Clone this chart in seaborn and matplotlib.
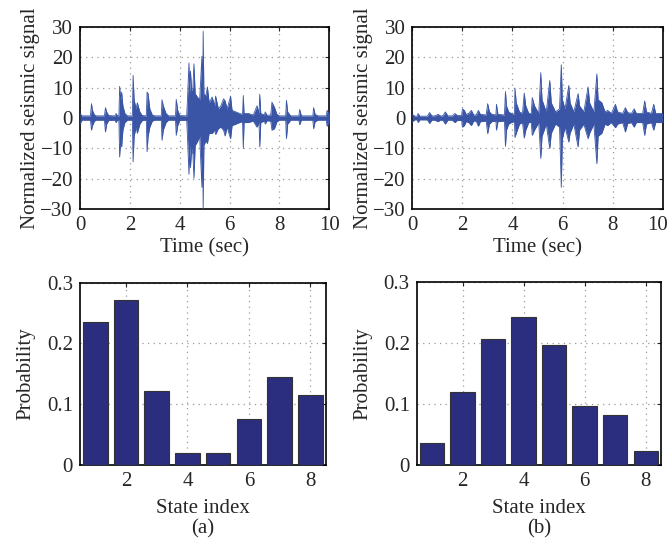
import matplotlib
matplotlib.use("Agg")
import matplotlib.pyplot as plt
import matplotlib.transforms as mtransforms
import seaborn as sns
import pandas as pd
import numpy as np

# ---------------- data ----------------
# Signal (a): envelope readings (time [s], upper, lower)
sig_a_t = [0.00, 0.08, 0.42, 0.46, 0.50, 0.58, 0.65, 0.98, 1.02, 1.07, 1.15, 1.40, 1.45, 1.50,
           1.56, 1.59, 1.63, 1.67, 1.72, 1.80, 1.90, 2.10, 2.13, 2.17, 2.25, 2.30, 2.40, 2.50,
           2.66, 2.69, 2.73, 2.80, 2.90, 3.00, 3.26, 3.29, 3.34, 3.45, 3.55, 3.83, 3.86, 3.92,
           4.00, 4.28, 4.31, 4.37, 4.40, 4.43, 4.48, 4.53, 4.57, 4.62, 4.70, 4.80, 4.89, 4.92,
           4.94, 4.97, 5.05, 5.11, 5.18, 5.30, 5.40, 5.44, 5.55, 5.65, 5.76, 5.82, 5.90, 6.04,
           6.10, 6.25, 6.40, 6.52, 6.55, 6.58, 6.75, 6.95, 7.10, 7.18, 7.21, 7.25, 7.40, 7.43,
           7.50, 7.65, 7.70, 7.80, 7.90, 8.00, 8.25, 8.28, 8.33, 8.45, 8.78, 8.81, 8.88, 9.34,
           9.37, 9.43, 9.55, 9.88, 9.91, 10.0]
sig_a_hi = [1.5, 0.7, 0.7, 4.7, 2.5, 1.0, 0.7, 0.7, 3.4, 2.0, 0.8, 0.7, 1.5, 0.7,
            0.7, 10.4, 6.0, 8.5, 4.0, 1.5, 0.7, 0.7, 14.0, 6.0, 3.0, 5.0, 2.0, 0.8,
            0.7, 8.5, 8.0, 3.0, 1.0, 0.7, 0.7, 6.0, 4.0, 1.5, 0.7, 0.7, 6.1, 2.5,
            0.8, 0.7, 6.0, 18.1, 8.0, 15.4, 9.0, 10.0, 17.8, 8.0, 7.0, 6.0, 20.3, 6.0,
            28.5, 8.0, 7.2, 10.2, 5.0, 6.9, 4.0, 7.2, 3.0, 4.0, 6.3, 5.6, 3.0, 7.1,
            2.5, 2.0, 1.5, 1.2, 7.4, 1.5, 1.5, 1.0, 4.0, 1.5, 7.8, 1.5, 1.0, 2.0,
            0.9, 1.0, 5.2, 3.5, 1.2, 0.7, 0.7, 5.8, 2.0, 0.7, 0.7, 2.8, 0.7, 0.7,
            3.4, 1.2, 0.7, 0.7, 2.5, 1.5]
sig_a_lo = [-2.0, -0.7, -0.7, -4.0, -2.5, -1.0, -0.7, -0.7, -4.6, -2.0, -0.8, -0.7, -1.5, -0.7,
            -0.7, -12.8, -7.0, -9.5, -4.0, -1.5, -0.7, -0.7, -14.4, -6.0, -3.0, -5.0, -2.0, -0.8,
            -0.7, -11.1, -6.0, -3.0, -1.0, -0.7, -0.7, -7.3, -4.0, -1.5, -0.7, -0.7, -5.7, -2.5,
            -0.8, -0.7, -6.0, -18.5, -9.0, -16.3, -10.0, -12.0, -19.8, -9.0, -8.0, -6.0, -22.8, -7.0,
            -30.0, -9.0, -7.5, -8.4, -5.0, -5.1, -4.0, -5.4, -3.5, -3.0, -4.0, -5.9, -3.0, -6.8,
            -2.5, -2.0, -1.5, -1.2, -10.0, -1.5, -1.5, -1.0, -3.0, -1.5, -9.5, -1.5, -1.0, -2.0,
            -0.9, -1.0, -4.0, -3.5, -1.2, -0.7, -0.7, -6.8, -2.0, -0.7, -0.7, -2.2, -0.7, -0.7,
            -3.5, -1.2, -0.7, -0.7, -2.7, -1.5]

# Signal (b): envelope readings (time [s], upper, lower)
sig_b_t = [0.00, 0.10, 0.20, 0.23, 0.30, 0.60, 0.69, 0.78, 0.90, 1.03, 1.12, 1.22, 1.32, 1.42,
           1.60, 1.70, 1.80, 1.97, 2.00, 2.08, 2.15, 2.25, 2.36, 2.45, 2.55, 2.64, 2.72, 2.95,
           3.01, 3.08, 3.18, 3.34, 3.36, 3.42, 3.68, 3.72, 3.76, 3.85, 3.95, 4.08, 4.10, 4.15,
           4.28, 4.40, 4.47, 4.53, 4.65, 4.75, 4.79, 4.88, 5.05, 5.13, 5.18, 5.35, 5.49, 5.55,
           5.72, 5.88, 5.95, 5.99, 6.10, 6.25, 6.30, 6.45, 6.62, 6.68, 6.85, 7.02, 7.08, 7.25,
           7.37, 7.42, 7.57, 7.70, 7.80, 7.95, 8.11, 8.20, 8.40, 8.51, 8.60, 8.75, 8.86, 8.95,
           9.20, 9.28, 9.35, 9.55, 9.64, 9.72, 10.0]
sig_b_hi = [1.2, 0.6, 0.6, 1.5, 0.6, 0.6, 1.8, 0.7, 0.7, 1.2, 0.7, 0.7, 2.0, 0.7,
            0.7, 1.5, 0.8, 0.8, 3.0, 2.5, 1.2, 1.5, 2.5, 1.0, 1.0, 2.5, 1.2, 1.0,
            4.7, 2.0, 1.2, 1.0, 4.5, 1.2, 1.0, 8.7, 4.0, 2.0, 1.5, 1.2, 9.8, 5.0,
            2.0, 1.5, 8.2, 4.0, 1.5, 1.5, 6.7, 4.0, 1.5, 14.9, 6.0, 2.0, 12.3, 5.0,
            2.0, 3.0, 17.5, 6.0, 3.0, 10.7, 5.0, 2.0, 8.0, 4.0, 2.0, 10.2, 5.0, 2.0,
            14.5, 6.0, 5.0, 2.0, 2.5, 1.5, 4.5, 2.0, 1.5, 3.4, 1.8, 1.5, 3.0, 1.5,
            1.5, 5.6, 2.0, 1.5, 4.5, 1.5, 1.5]
sig_b_lo = [-1.2, -0.6, -0.6, -1.5, -0.6, -0.6, -1.8, -0.7, -0.7, -1.2, -0.7, -0.7, -2.0, -0.7,
            -0.7, -1.5, -0.8, -0.8, -3.0, -2.5, -1.2, -1.5, -2.5, -1.0, -1.0, -2.7, -1.2, -1.0,
            -5.1, -2.0, -1.2, -1.0, -4.0, -1.2, -1.0, -9.3, -4.0, -2.0, -1.5, -1.2, -6.4, -5.0,
            -2.0, -1.5, -6.6, -4.0, -1.5, -1.5, -5.7, -4.0, -1.5, -13.3, -6.0, -2.0, -10.0, -5.0,
            -2.0, -3.0, -22.8, -7.0, -3.0, -7.9, -5.0, -2.0, -9.5, -4.0, -2.0, -6.8, -5.0, -2.0,
            -15.0, -6.0, -5.0, -2.0, -2.5, -1.5, -3.2, -2.0, -1.5, -4.6, -1.8, -1.5, -3.0, -1.5,
            -1.5, -5.7, -2.0, -1.5, -4.0, -1.5, -1.5]

# State-probability histograms
states = [1, 2, 3, 4, 5, 6, 7, 8]
prob_a = [0.235, 0.272, 0.122, 0.019, 0.019, 0.075, 0.144, 0.115]
prob_b = [0.035, 0.119, 0.206, 0.242, 0.197, 0.096, 0.082, 0.023]

# ---------------- styling ----------------
sns.set_style("white")
plt.rcParams['font.family'] = ['Liberation Serif', 'DejaVu Serif']
FS = 15
SIG_COLOR = "#3A55A6"
BAR_COLOR = "#2B2E7E"
GRID_KW = dict(color="#9a9a9a", linestyle=(0, (1, 3.5)), linewidth=0.9)

fig = plt.figure(figsize=(6.68, 5.42), dpi=100)
W, H = 668.0, 542.0

def add_axes(l, t, r, b):
    return fig.add_axes([l / W, 1 - b / H, (r - l) / W, (b - t) / H])

ax_tl = add_axes(80, 26.7, 329.3, 209.3)
ax_tr = add_axes(412.3, 26.7, 662.7, 209.3)
ax_bl = add_axes(80, 282.7, 325.7, 464.7)
ax_br = add_axes(416.7, 282.2, 661.0, 464.7)


def style_axes(ax):
    for s in ax.spines.values():
        s.set_visible(True)
        s.set_color("black")
        s.set_linewidth(1.2)
    ax.tick_params(direction="in", length=3, width=0.8, top=True, right=True,
                   labelsize=FS, pad=5)
    ax.grid(True, **GRID_KW)
    ax.set_axisbelow(True)


def draw_signal(ax, t, hi, lo):
    df = pd.DataFrame({"t": t, "hi": hi, "lo": lo})
    ax.fill_between(df["t"], df["lo"], df["hi"], color=SIG_COLOR, linewidth=0, zorder=3)
    sns.lineplot(data=df, x="t", y="hi", ax=ax, color=SIG_COLOR, linewidth=0.6,
                 estimator=None, sort=False, zorder=3)
    sns.lineplot(data=df, x="t", y="lo", ax=ax, color=SIG_COLOR, linewidth=0.6,
                 estimator=None, sort=False, zorder=3)
    ax.set_xlim(0, 10)
    ax.set_ylim(-30, 30)
    ax.set_xticks([0, 2, 4, 6, 8, 10])
    ax.set_yticks([-30, -20, -10, 0, 10, 20, 30])
    ax.set_xlabel("Time (sec)", fontsize=FS, labelpad=2)
    ax.set_ylabel("Normalized seismic signal", fontsize=FS, labelpad=0)
    style_axes(ax)


def draw_bars(ax, probs, tag):
    df = pd.DataFrame({"state": states, "p": probs})
    sns.barplot(data=df, x="state", y="p", ax=ax, native_scale=True, width=0.8,
                color=BAR_COLOR, saturation=1, edgecolor="#333333", linewidth=0.8,
                zorder=3)
    ax.set_xlim(0.5, 8.5)
    ax.set_ylim(0, 0.3)
    ax.set_xticks([2, 4, 6, 8])
    ax.set_xticklabels(["2", "4", "6", "8"])
    ax.set_yticks([0, 0.1, 0.2, 0.3])
    ax.set_yticklabels(["0", "0.1", "0.2", "0.3"])
    ax.set_xlabel("State index", fontsize=FS, labelpad=6)
    ax.set_ylabel("Probability", fontsize=FS, labelpad=8)
    style_axes(ax)
    pos = ax.get_position()
    fig.text(pos.x0 + pos.width / 2, 1 - 529 / H, tag, fontsize=FS,
             ha="center", va="center")


draw_signal(ax_tl, sig_a_t, sig_a_hi, sig_a_lo)
draw_signal(ax_tr, sig_b_t, sig_b_hi, sig_b_lo)
draw_bars(ax_bl, prob_a, "(a)")
draw_bars(ax_br, prob_b, "(b)")

# keep the last tick label of the right signal panel inside the figure
last = ax_tr.get_xticklabels()[-1]
last.set_transform(last.get_transform() +
                   mtransforms.ScaledTranslation(-5 / 100, 0, fig.dpi_scale_trans))

fig.savefig("out.png", dpi=100)
